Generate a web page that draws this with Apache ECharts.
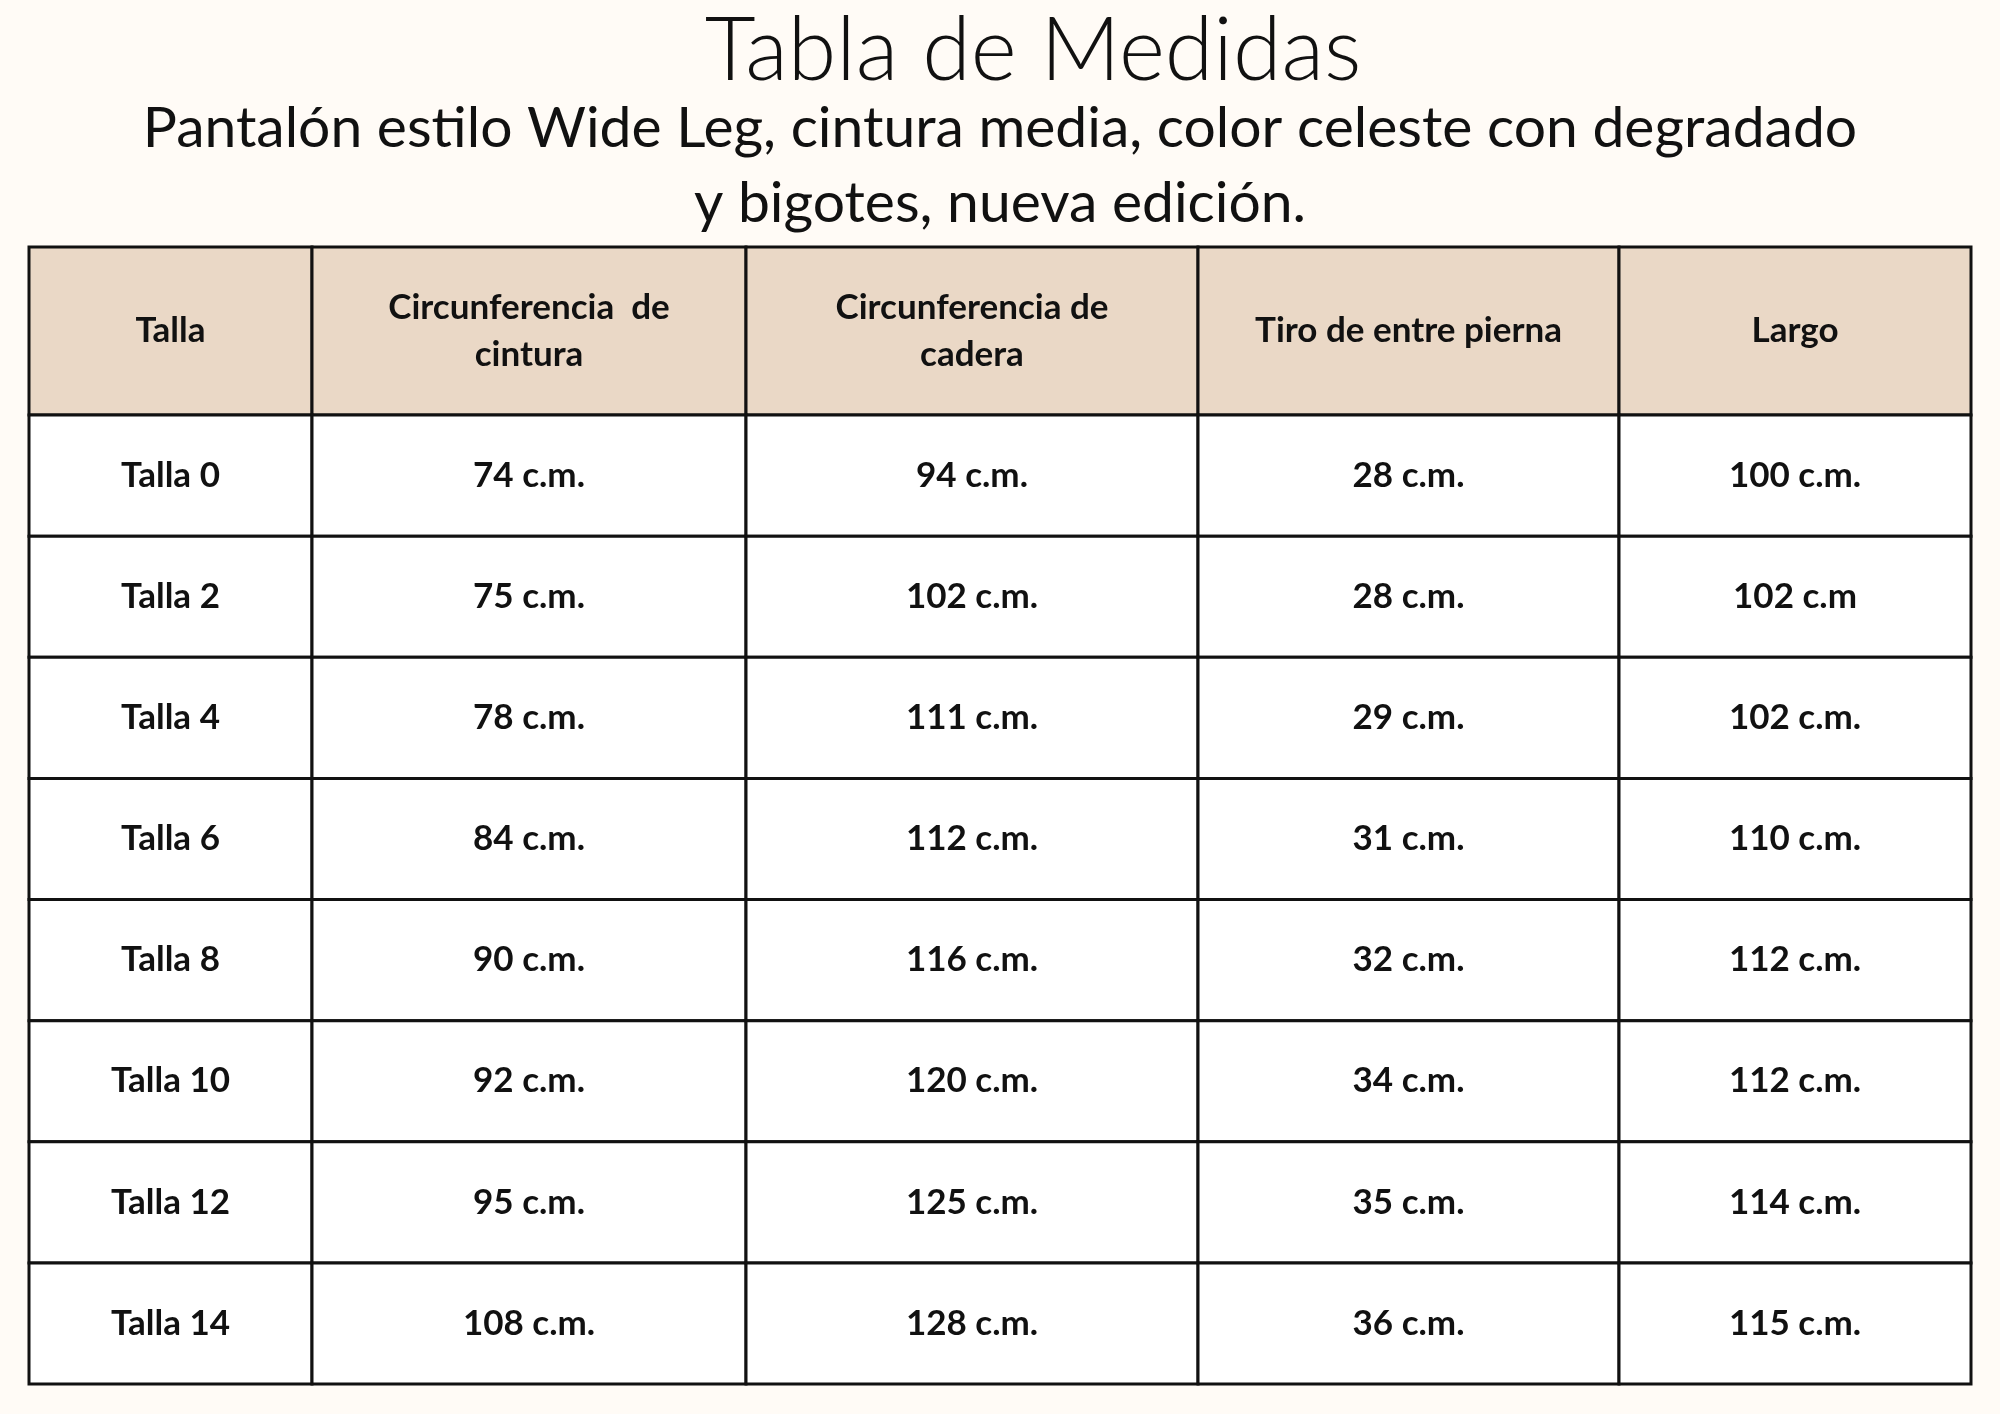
<!DOCTYPE html>
<html><head><meta charset="utf-8">
<script src="https://cdn.jsdelivr.net/npm/echarts@6/dist/echarts.min.js"></script>
<style>html,body{margin:0;background:#fffbf6}#c{width:2000px;height:1414px}</style>
</head><body><div id="c"></div>
<script>
const titleText = 'Tabla de Medidas';
const subtitleLines = ['Pantalón estilo Wide Leg, cintura media, color celeste con degradado', 'y bigotes, nueva edición.'];
const headers = ['Talla', 'Circunferencia  de\ncintura', 'Circunferencia de\ncadera', 'Tiro de entre pierna', 'Largo'];
const sizes = ['Talla 0','Talla 2','Talla 4','Talla 6','Talla 8','Talla 10','Talla 12','Talla 14'];
const cintura = ['74 c.m.','75 c.m.','78 c.m.','84 c.m.','90 c.m.','92 c.m.','95 c.m.','108 c.m.'];
const cadera = ['94 c.m.','102 c.m.','111 c.m.','112 c.m.','116 c.m.','120 c.m.','125 c.m.','128 c.m.'];
const tiro = ['28 c.m.','28 c.m.','29 c.m.','31 c.m.','32 c.m.','34 c.m.','35 c.m.','36 c.m.'];
const largo = ['100 c.m.','102 c.m','102 c.m.','110 c.m.','112 c.m.','112 c.m.','114 c.m.','115 c.m.'];

const colEdges = [0, 283, 717, 1169, 1590, 1942];
const headerH = 168, rowH = 121.125;
const data = [];
headers.forEach((h, c) => data.push([c, -1, h]));
const cols = [sizes, cintura, cadera, tiro, largo];
cols.forEach((col, c) => col.forEach((v, r) => data.push([c, r, v])));

const chart = echarts.init(document.getElementById('c'));
chart.setOption({
  backgroundColor: '#fffbf6',
  graphic: [
    {type: 'text', x: 1033, y: 52, style: {text: titleText, align: 'center', verticalAlign: 'middle',
      fontFamily: 'Lato', fontWeight: 300, fontSize: 88, fill: '#111'}},
    {type: 'text', x: 1000, y: 129, style: {text: subtitleLines[0], align: 'center', verticalAlign: 'middle',
      fontFamily: 'Lato', fontWeight: 400, fontSize: 57, fill: '#111'}},
    {type: 'text', x: 1000, y: 204, style: {text: subtitleLines[1], align: 'center', verticalAlign: 'middle',
      fontFamily: 'Lato', fontWeight: 400, fontSize: 57, fill: '#111'}}
  ],
  grid: {left: 29, right: 29, top: 247, bottom: 30},
  xAxis: {type: 'value', min: 0, max: 1942, show: false},
  yAxis: {type: 'value', min: 0, max: headerH + 8 * rowH, inverse: true, show: false},
  series: [{
    type: 'custom',
    data: data,
    renderItem: (params, api) => {
      const c = api.value(0), r = api.value(1);
      const y0 = r < 0 ? 0 : headerH + r * rowH;
      const y1 = r < 0 ? headerH : y0 + rowH;
      const p0 = api.coord([colEdges[c], y0]);
      const p1 = api.coord([colEdges[c + 1], y1]);
      const txt = data[params.dataIndex][2];
      return {type: 'group', children: [
        {type: 'rect', shape: {x: p0[0], y: p0[1], width: p1[0] - p0[0], height: p1[1] - p0[1]},
         style: {fill: r < 0 ? '#ead8c6' : '#ffffff', stroke: '#111', lineWidth: 3}},
        {type: 'text', style: {text: txt, x: (p0[0] + p1[0]) / 2, y: (p0[1] + p1[1]) / 2,
          align: 'center', verticalAlign: 'middle', fontFamily: 'Lato', fontWeight: 'bold',
          fontSize: 35, lineHeight: 47, fill: '#111'}}
      ]};
    }
  }]
});
</script></body></html>
